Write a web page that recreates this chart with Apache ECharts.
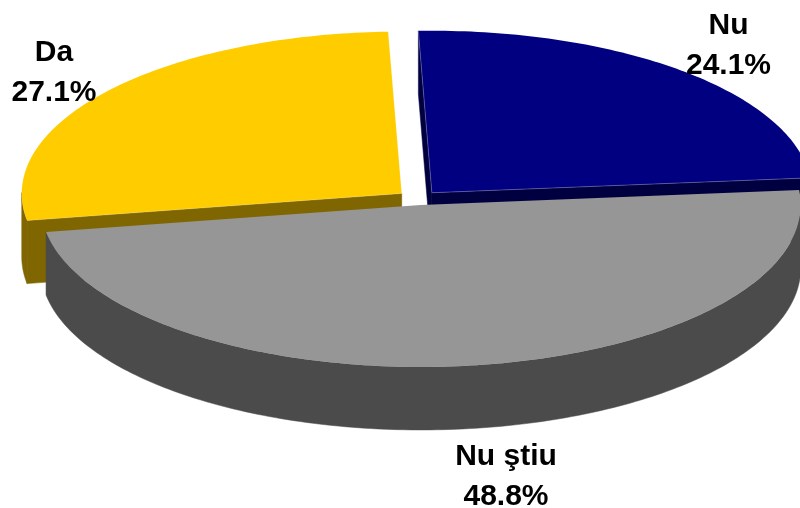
<!DOCTYPE html>
<html>
<head>
<meta charset="utf-8">
<style>html,body{margin:0;padding:0;background:#fff}#c{width:800px;height:508px}</style>
<script src="https://cdn.jsdelivr.net/npm/echarts@6/dist/echarts.min.js"></script>
</head>
<body>
<div id="c"></div>
<script>
const categories = ['Da', 'Nu', 'Nu ştiu'];
const values = [27.1, 24.1, 48.8];
const topColors = ['#ffcc00', '#000080', '#969696'];
const wallColors = ['#806600', '#000040', '#4b4b4b'];
const edgeColors = ['rgba(255,255,255,0.2)', 'rgba(255,255,255,0.25)', 'rgba(255,255,255,0)'];

// pie projection
const CX = 418, CY = 198, RX = 380, RY = 162, DEPTH = 63;
const EXPLODE_X = 21, EXPLODE_Y = 7;
const START_DEG = -99.6;
const LABEL_AT = [[54, 72.5], [728.5, 46], [506, 476.5]];

const total = values.reduce((a, b) => a + b, 0);
const chart = echarts.init(document.getElementById('c'), null, {renderer: 'canvas'});

function renderItem(params, api) {
  const i = params.dataIndex;
  const v = api.value(0);
  let before = 0;
  for (let k = 0; k < i; k++) before += values[k];
  const a0 = START_DEG + before / total * 360;
  const a1 = a0 + v / total * 360;
  const rad = d => d * Math.PI / 180;
  const mid = rad((a0 + a1) / 2);
  const ox = CX + EXPLODE_X * Math.sin(mid);
  const oy = CY - EXPLODE_Y * Math.cos(mid);
  const arc = [], front = [];
  const n = Math.ceil(a1 - a0);
  for (let k = 0; k <= n; k++) {
    const t = rad(a0 + (a1 - a0) * k / n);
    const p = [ox + RX * Math.sin(t), oy - RY * Math.cos(t)];
    arc.push(p);
    if (Math.cos(t) < 0.02) front.push(p);
  }
  const down = p => [p[0], p[1] + DEPTH];
  const apex = [ox, oy];
  const first = arc[0], last = arc[arc.length - 1];
  const wall = pts => ({
    type: 'polygon', shape: {points: pts},
    style: {fill: wallColors[i], stroke: wallColors[i], lineWidth: 0.5}
  });
  const children = [];
  if (Math.sin(rad(a0)) < 0) children.push(wall([apex, first, down(first), down(apex)]));
  if (Math.sin(rad(a1)) > 0) children.push(wall([apex, last, down(last), down(apex)]));
  if (front.length > 1) children.push(wall(front.concat(front.map(down).reverse())));
  children.push(
    {type: 'polygon', shape: {points: [apex].concat(arc)}, style: {fill: topColors[i]}},
    {type: 'polyline', shape: {points: [first, apex, last]},
     style: {fill: null, stroke: edgeColors[i], lineWidth: 1}},
    {type: 'text', z2: 100,
     style: {
       x: LABEL_AT[i][0], y: LABEL_AT[i][1],
       text: categories[i] + '\n' + v.toFixed(1) + '%',
       align: 'center', verticalAlign: 'middle',
       fontFamily: '"Liberation Sans", Arial, sans-serif',
       fontWeight: 'bold', fontSize: 30, lineHeight: 40, fill: '#000'
     }}
  );
  return {type: 'group', children};
}

chart.setOption({
  animation: false,
  backgroundColor: '#fff',
  series: [{
    type: 'custom',
    coordinateSystem: 'none',
    renderItem: renderItem,
    silent: true,
    clip: false,
    data: values.map((v, i) => ({name: categories[i], value: [v]}))
  }]
});
</script>
</body>
</html>
